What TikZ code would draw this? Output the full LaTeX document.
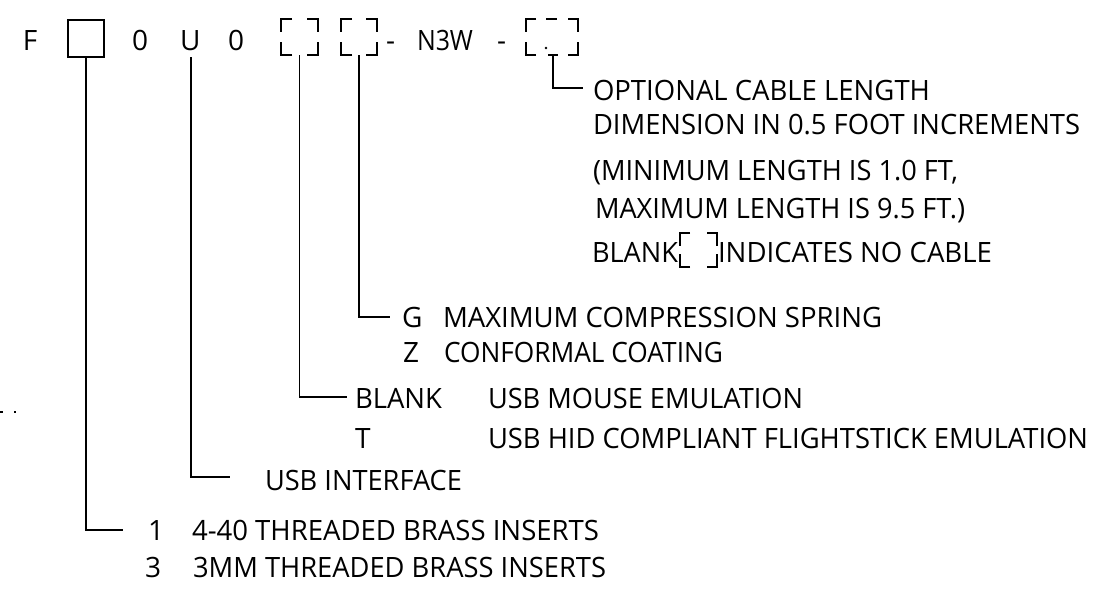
\documentclass[tikz,border=0pt]{standalone}
\usepackage{graphicx}
\usepackage{fontspec}
\setmainfont{Open Sans}
\newsavebox\fitbox
\newcommand\fitto[2]{\sbox\fitbox{#2}\pgfmathsetmacro\fitsc{#1/\wd\fitbox}\scalebox{\fitsc}[1]{\usebox\fitbox}}
\begin{document}
\begin{tikzpicture}[x=1pt,y=-1pt,
  ln/.style={line width=1.7pt,line join=miter,line cap=butt},
  txt/.style={anchor=base west,inner sep=0pt,outer sep=0pt,font=\fontsize{28}{30}\selectfont}]
\useasboundingbox (0,0) rectangle (1118,590);
\newcommand\cornerbox[6]{%
  \draw[ln] (#1+#5,#2) -- (#1,#2) -- (#1,#2+#6);
  \draw[ln] (#3-#5,#2) -- (#3,#2) -- (#3,#2+#6);
  \draw[ln] (#1+#5,#4) -- (#1,#4) -- (#1,#4-#6);
  \draw[ln] (#3-#5,#4) -- (#3,#4) -- (#3,#4-#6);}
% code line
\node[txt] (F) at (23,50) {F};
\node[draw,line width=1.7pt,minimum width=36pt,minimum height=37pt,inner sep=0pt,anchor=north west] (sq) at (67,19) {};
\node[txt] (z1) at (132,50) {0};
\node[txt] (U) at (180,50) {U};
\node[txt] (z2) at (228,50) {0};
\cornerbox{281}{19}{318}{55}{11}{13}
\coordinate (b1) at (299.5,55);
\cornerbox{341}{19}{377}{55}{11}{13}
\coordinate (b2) at (359,55);
\node[txt] (h1) at (386,50) {-};
\node[txt] (N) at (417,50) {\fitto{56}{N3W}};
\node[txt] (h2) at (497,50) {-};
\cornerbox{526}{19}{578}{55}{10}{13}
\draw[ln] (546,19) -- (557,19);
\draw[ln] (548,55) -- (558,55);
\fill (546,48) circle (1.3pt);
\coordinate (b3) at (553,55);
% cable length
\coordinate (e3) at (583,88);
\draw[ln] (b3) |- (e3);
\node[txt] (c1) at (593,100) {\fitto{337}{OPTIONAL CABLE LENGTH}};
\node[txt] (c2) at (593,134) {\fitto{487}{DIMENSION IN 0.5 FOOT INCREMENTS}};
\node[txt] (c3) at (593,180) {\fitto{365}{(MINIMUM LENGTH IS 1.0 FT,}};
\node[txt] (c4) at (595,218) {\fitto{370}{MAXIMUM LENGTH IS 9.5 FT.)}};
\node[txt] (c5) at (592,262) {\fitto{86}{BLANK}};
\cornerbox{680}{233}{717}{267}{10}{13}
\node[txt] (c6) at (718,262) {\fitto{274}{INDICATES NO CABLE}};
% G/Z
\coordinate (e2) at (390,317);
\draw[ln] (b2) |- (e2);
\node[txt] (g) at (402,327) {G};
\node[txt] (gt) at (443,327) {\fitto{439}{MAXIMUM COMPRESSION SPRING}};
\node[txt] (zz) at (403,362) {Z};
\node[txt] (zt) at (444,362) {\fitto{279}{CONFORMAL COATING}};
% BLANK/T
\coordinate (e1) at (347,397);
\draw[ln] (b1) |- (e1);
\node[txt] (bl) at (355,408) {\fitto{87}{BLANK}};
\node[txt] (blt) at (488,408) {\fitto{315}{USB MOUSE EMULATION}};
\node[txt] (t) at (355,448) {T};
\node[txt] (tt) at (488,448) {\fitto{600}{USB HID COMPLIANT FLIGHTSTICK EMULATION}};
% USB interface
\coordinate (u0) at (191,57);
\coordinate (eu) at (230,477);
\draw[ln] (u0) |- (eu);
\node[txt] (usb) at (265,490) {\fitto{197}{USB INTERFACE}};
% inserts
\coordinate (es) at (123,530);
\draw[ln] (sq.south) |- (es);
\node[txt] (n1) at (148,540) {1};
\node[txt] (n1t) at (192,540) {\fitto{407}{4-40 THREADED BRASS INSERTS}};
\node[txt] (n3) at (145,577) {3};
\node[txt] (n3t) at (193,577) {\fitto{413}{3MM THREADED BRASS INSERTS}};
% stray dots
\fill (0,411) rectangle (3,413);
\fill (14,411) rectangle (16,413);
\end{tikzpicture}
\end{document}
